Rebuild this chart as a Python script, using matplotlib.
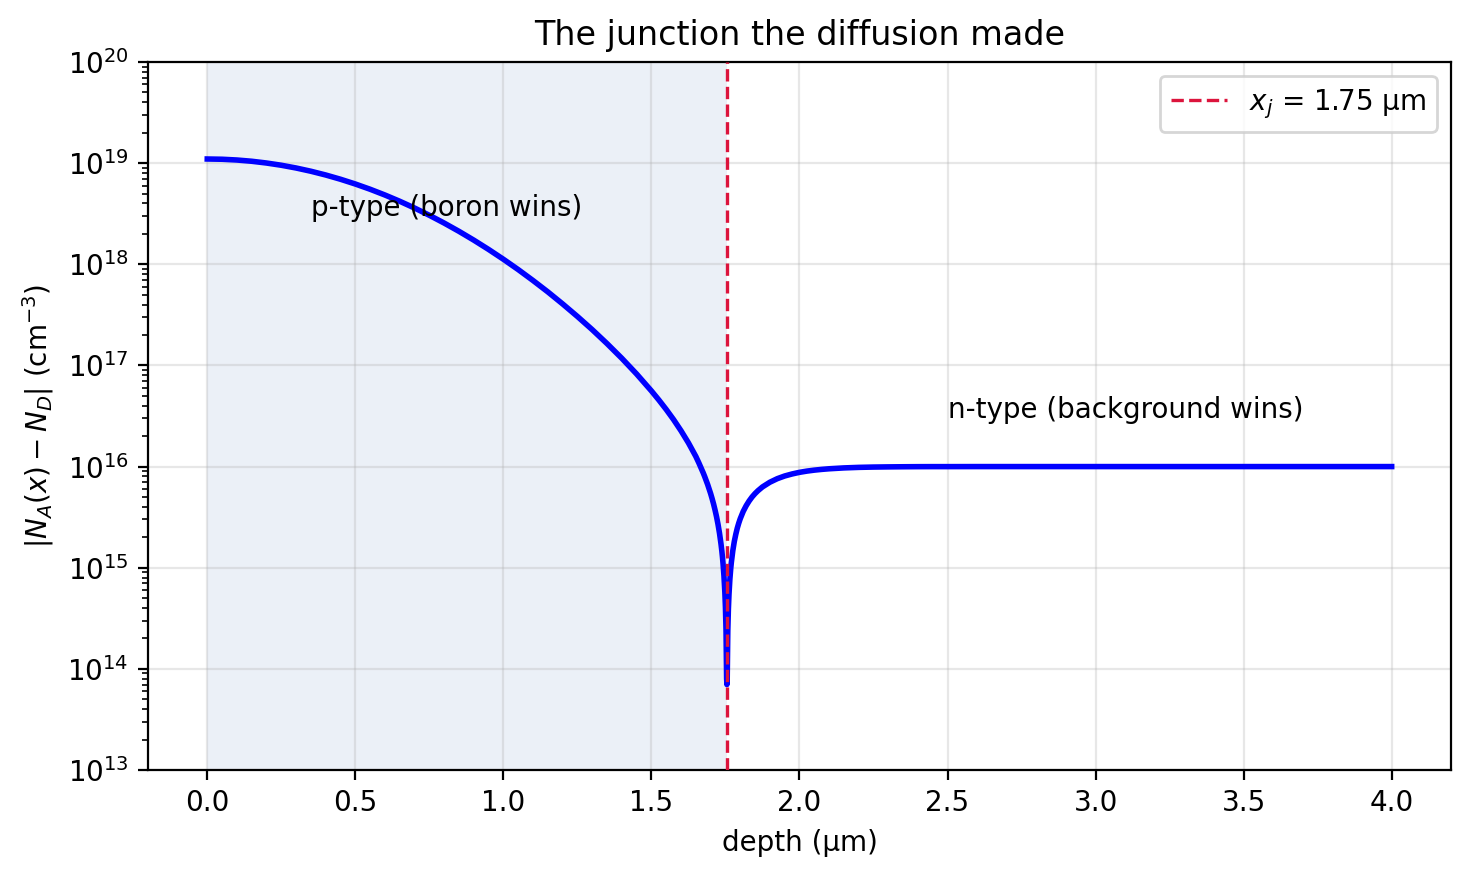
import matplotlib
matplotlib.use("Agg")
import matplotlib.pyplot as plt

# depth (µm) and |N_A(x) - N_D| (cm^-3)
depth = [0.0, 0.05, 0.1, 0.15, 0.2, 0.25, 0.3, 0.35, 0.4, 0.45, 0.5, 0.55,
         0.6, 0.65, 0.7, 0.75, 0.8, 0.85, 0.9, 0.95, 1.0, 1.05, 1.1, 1.15,
         1.2, 1.25, 1.3, 1.35, 1.4, 1.45, 1.5, 1.525, 1.55, 1.575, 1.6,
         1.625, 1.65, 1.66, 1.675, 1.68, 1.69, 1.7, 1.705, 1.71, 1.715,
         1.72, 1.725, 1.73, 1.735, 1.738, 1.74, 1.742, 1.745, 1.748, 1.75,
         1.752, 1.754, 1.755, 1.756, 1.758, 1.76, 1.762, 1.765, 1.768, 1.77,
         1.775, 1.78, 1.785, 1.79, 1.795, 1.80, 1.81, 1.82, 1.83, 1.84,
         1.85, 1.86, 1.875, 1.9, 1.925, 1.95, 1.975, 2.0, 2.025, 2.05,
         2.075, 2.1, 2.15, 2.2, 2.25, 2.3, 2.35, 2.4, 2.45, 2.5, 2.6, 2.8,
         3.0, 3.5, 4.0]
net_doping = [1.099e19, 1.0928e19, 1.074e19, 1.0441e19, 1.003e19, 9.533e18,
              8.954e18, 8.316e18, 7.636e18, 6.931e18, 6.220e18, 5.520e18,
              4.842e18, 4.199e18, 3.601e18, 3.052e18, 2.557e18, 2.118e18,
              1.734e18, 1.403e18, 1.122e18, 8.87e17, 6.92e17, 5.34e17,
              4.06e17, 3.05e17, 2.26e17, 1.645e17, 1.177e17, 8.23e16,
              5.60e16, 4.56e16, 3.67e16, 2.91e16, 2.26e16, 1.716e16,
              1.26e16, 1.091e16, 8.66e15, 7.96e15, 6.64e15, 5.41e15,
              4.82e15, 4.26e15, 3.71e15, 3.19e15, 2.68e15, 2.19e15,
              1.72e15, 1.45e15, 1.27e15, 1.09e15, 8.3e14, 5.73e14, 4.07e14,
              2.42e14, 8.0e13, 7.0e13, 7.95e13, 2.37e14, 3.92e14, 5.44e14,
              7.69e14, 9.89e14, 1.13e15, 1.48e15, 1.82e15, 2.14e15, 2.46e15,
              2.76e15, 3.05e15, 3.60e15, 4.10e15, 4.57e15, 5.01e15, 5.41e15,
              5.78e15, 6.29e15, 7.00e15, 7.59e15, 8.07e15, 8.45e15, 8.77e15,
              9.02e15, 9.22e15, 9.38e15, 9.51e15, 9.70e15, 9.82e15, 9.89e15,
              9.93e15, 9.96e15, 9.98e15, 9.99e15, 9.99e15, 1.0e16, 1.0e16,
              1.0e16, 1.0e16, 1.0e16]
x_junction = 1.755
junction_label = r"$x_j$ = 1.75 µm"
p_label = "p-type (boron wins)"
n_label = "n-type (background wins)"

fig, ax = plt.subplots(figsize=(7.35, 4.385), dpi=200)
ax.axvspan(0, x_junction, color="#ebf0f7", zorder=0, lw=0)
ax.semilogy(depth, net_doping, color="blue", lw=2.0, zorder=3)
ax.axvline(x_junction, color="crimson", ls="--", lw=1.2, label=junction_label, zorder=4)
ax.text(0.35, 3e18, p_label, fontsize=10, zorder=5)
ax.text(2.5, 3e16, n_label, fontsize=10, zorder=5)
ax.set_ylim(1e13, 1e20)
ax.set_xlabel("depth (µm)")
ax.set_ylabel(r"$|N_A(x) - N_D|$ (cm$^{-3}$)")
ax.set_title("The junction the diffusion made")
ax.grid(True, which="major", alpha=0.3)
ax.set_axisbelow(True)
ax.legend(loc="upper right")
fig.subplots_adjust(left=0.1007, right=0.987, top=0.9293, bottom=0.122)
fig.savefig("out.png", dpi=200)
